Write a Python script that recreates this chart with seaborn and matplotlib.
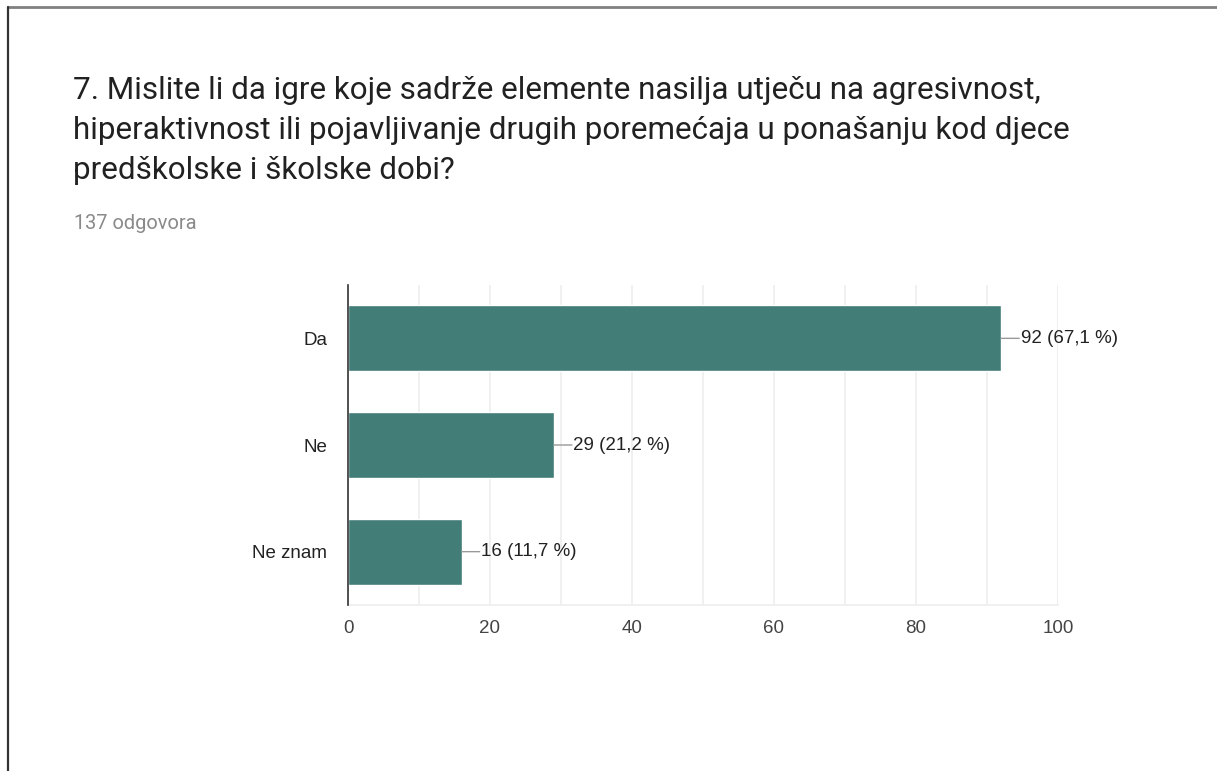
import matplotlib
matplotlib.use('Agg')
import matplotlib.pyplot as plt
import seaborn as sns
import pandas as pd

# data
answers = ['Da', 'Ne', 'Ne znam']
counts = [92, 29, 16]
percents = ['67,1', '21,2', '11,7']
total = 137
x_ticks = [0, 20, 40, 60, 80, 100]

title = ('7. Mislite li da igre koje sadrže elemente nasilja utječu na agresivnost,\n'
         'hiperaktivnost ili pojavljivanje drugih poremećaja u ponašanju kod djece\n'
         'predškolske i školske dobi?')

df = pd.DataFrame({'odgovor': answers, 'broj': counts})

sns.set_theme(style='white')
plt.rcParams['font.family'] = ['Liberation Sans', 'DejaVu Sans']

fig = plt.figure(figsize=(12.17, 7.71), dpi=100)

# page frame (top and left edges only)
fig.add_artist(plt.Line2D([0.0065, 1.0], [0.9905, 0.9905], color='#808080', lw=2,
                          transform=fig.transFigure))
fig.add_artist(plt.Line2D([0.0065, 0.0065], [0.0, 0.9905], color='#333333', lw=1.6,
                          transform=fig.transFigure))

fig.text(73 / 1217, 1 - 76 / 771, title, fontsize=22.6, family='Roboto',
         color='#212121', va='top', ha='left', linespacing=1.47)
fig.text(74 / 1217, 1 - 223 / 771, f'{total} odgovora', fontsize=14.4,
         family='Roboto', color='#8a8a8a', va='center', ha='left')

ax = fig.add_axes([348 / 1217, 1 - 605 / 771, 710 / 1217, 320 / 771])
sns.barplot(data=df, x='broj', y='odgovor', orient='h', color='#427d78',
            saturation=1, width=0.62, ax=ax, zorder=3)

ax.set_xlim(0, 100)
ax.set_ylim(2.5, -0.5)
ax.set_xticks(x_ticks)
ax.set_xticks(range(10, 100, 20), minor=True)
ax.grid(axis='x', which='both', color='#eeeeee', lw=1.2, zorder=0)
ax.tick_params(axis='x', which='both', length=0, labelsize=13.5,
               labelcolor='#444444', pad=11)
ax.tick_params(axis='y', length=0, labelsize=13.5, labelcolor='#222222', pad=15)
ax.set_xlabel('')
ax.set_ylabel('')
for s in ['top', 'right']:
    ax.spines[s].set_visible(False)
ax.spines['bottom'].set_color('#eeeeee')
ax.spines['bottom'].set_linewidth(1.2)
ax.spines['left'].set_color('#333333')
ax.spines['left'].set_linewidth(1.2)
ax.spines['left'].set_zorder(5)

for i, (c, p) in enumerate(zip(counts, percents)):
    ax.annotate('', xy=(c, i), xytext=(13, 0), textcoords='offset points',
                arrowprops=dict(arrowstyle='-', color='#999999', lw=1,
                                shrinkA=0, shrinkB=0))
    ax.annotate(f'{c} ({p} %)', xy=(c, i), xytext=(14, 0),
                textcoords='offset points', va='center', ha='left',
                fontsize=13.5, color='#222222')

fig.savefig('out.png', dpi=100, facecolor='white')
